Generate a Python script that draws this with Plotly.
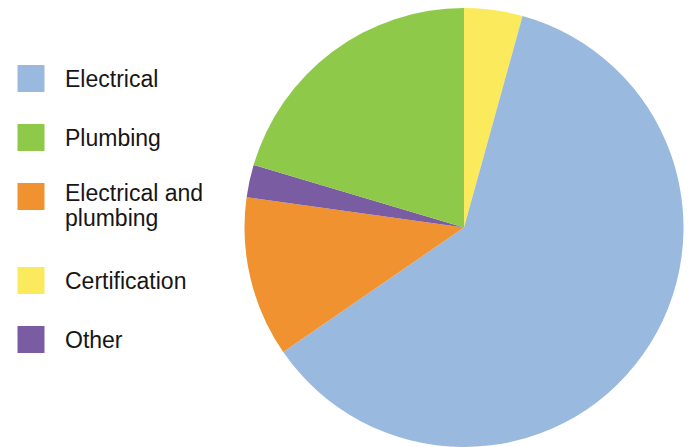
import plotly.graph_objects as go

# ---- data (legend order) ----
categories = ["Electrical", "Plumbing", "Electrical and plumbing", "Certification", "Other"]
legend_text = ["Electrical", "Plumbing", "Electrical and<br>plumbing", "Certification", "Other"]
shares = [61.1, 20.4, 11.8, 4.3, 2.4]
colors = ["#9ab9de", "#8fc94a", "#ef922f", "#fbea5c", "#7a5ca2"]
# order of slices clockwise from 12 o'clock
slice_order = ["Certification", "Electrical", "Electrical and plumbing", "Other", "Plumbing"]

PAGE_MARGIN = 8               # browser default body margin
W, H = 696 - PAGE_MARGIN, 447 - PAGE_MARGIN

# ---- style constants (page pixels) ----
FONT = "Liberation Sans"
FONT_SIZE = 23
LEG_X = 31          # legend square centre
LEG_TEXT_X = 63     # legend text left
LEG_TOP = 78.5      # first square centre
ROW_GAP = 34        # gap between rows
LINE_H = 25         # height of one text line
SQ = 27             # square size
PIE_CX = 456        # pie centre x in figure px

idx = [categories.index(c) for c in slice_order]

fig = go.Figure()

fig.add_trace(go.Pie(
    labels=[categories[i] for i in idx],
    values=[shares[i] for i in idx],
    marker=dict(colors=[colors[i] for i in idx], line=dict(width=0)),
    sort=False,
    direction="clockwise",
    rotation=0,
    textinfo="none",
    hoverinfo="label+percent",
    domain=dict(x=[(PIE_CX - H / 2) / W, (PIE_CX + H / 2) / W], y=[0, 1]),
    showlegend=False,
))

# legend rows computed from the label line counts
lines = [t.split("<br>") for t in legend_text]
ys = []
y = LEG_TOP - PAGE_MARGIN
for ln in lines:
    ys.append(y)
    y += ROW_GAP + len(ln) * LINE_H

fig.add_trace(go.Scatter(
    x=[LEG_X - PAGE_MARGIN] * len(categories), y=ys,
    mode="markers",
    marker=dict(symbol="square", size=SQ, color=colors, line=dict(width=0)),
    hoverinfo="skip", showlegend=False,
))

for ln, yy in zip(lines, ys):
    n = len(ln)
    for j, part in enumerate(ln):
        fig.add_annotation(
            x=LEG_TEXT_X - PAGE_MARGIN, y=yy + (j - 0.15 * (n - 1)) * LINE_H,
            xref="x", yref="y", text=part, showarrow=False,
            xanchor="left", yanchor="middle", align="left",
            font=dict(family=FONT, size=FONT_SIZE, color="#161616"),
        )

fig.update_xaxes(visible=False, range=[0, W], domain=[0, 1], fixedrange=True)
fig.update_yaxes(visible=False, range=[H, 0], domain=[0, 1], fixedrange=True)

fig.update_layout(
    width=W, height=H,
    margin=dict(l=0, r=0, t=0, b=0),
    paper_bgcolor="white", plot_bgcolor="white",
    showlegend=False,
)

fig.write_html("out.html")
